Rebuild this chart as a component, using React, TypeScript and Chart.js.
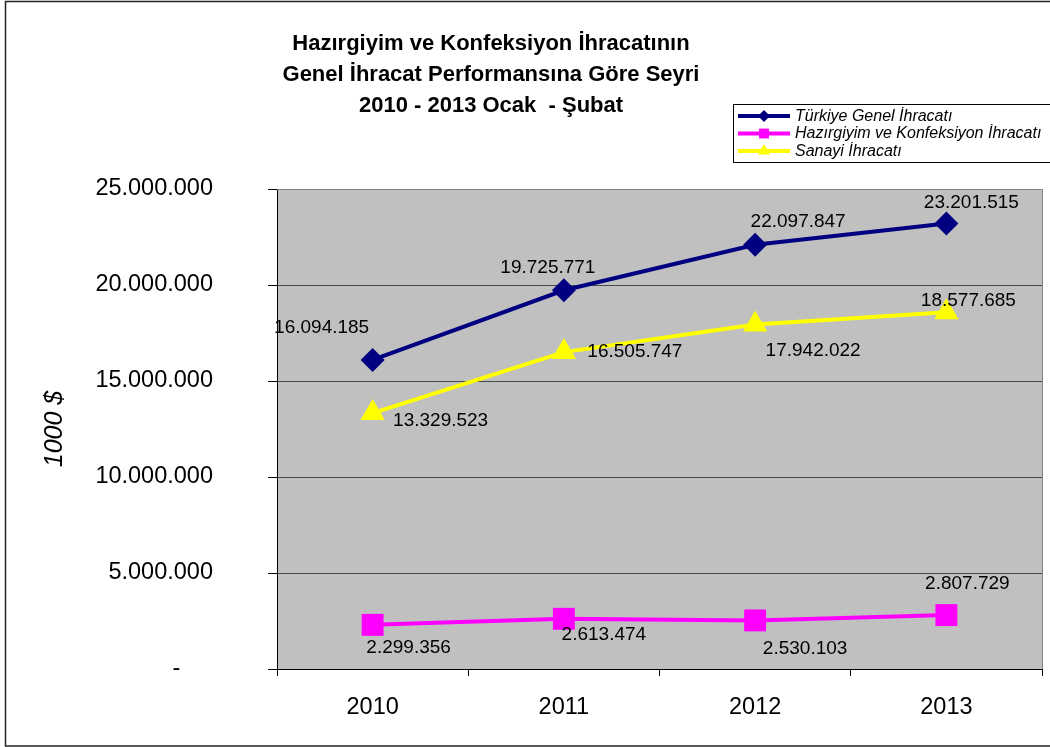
import React, { useEffect, useRef } from "react";
import { Chart, registerables } from "chart.js";

Chart.register(...registerables);

const categories = ["2010", "2011", "2012", "2013"];
const seriesNames = [
  "Türkiye Genel İhracatı",
  "Hazırgiyim ve Konfeksiyon İhracatı",
  "Sanayi İhracatı",
];
const turkiyeGenel = [16094185, 19725771, 22097847, 23201515];
const hazirgiyim = [2299356, 2613474, 2530103, 2807729];
const sanayi = [13329523, 16505747, 17942022, 18577685];
const yTicks = [0, 5000000, 10000000, 15000000, 20000000, 25000000];
const titleLines = [
  "Hazırgiyim ve Konfeksiyon İhracatının",
  "Genel İhracat Performansına Göre Seyri",
  "2010 - 2013 Ocak  - Şubat",
];
const yTitle = "1000 $";

const FONT = '"Liberation Sans", Arial, sans-serif';
const colors = ["#000080", "#FF00FF", "#FFFF00"];
const pointStyles = ["rectRot", "rect", "triangle"];
const pointRadii = [12, 15.5, 14];
// label offsets (dx, dy) from each point, per series
const labelOffsets = [
  [[-51, -32], [-16, -22], [43, -23], [25, -21]],
  [[36, 23], [40, 16], [50, 28], [21, -31]],
  [[68, 8], [71, 0], [58, 26], [22, -12]],
];

const fmt = (v: number) =>
  Math.round(v).toString().replace(/\B(?=(\d{3})+(?!\d))/g, ".");

function drawMarker(ctx: CanvasRenderingContext2D, style: string, x: number, y: number, r: number) {
  ctx.beginPath();
  if (style === "rectRot") {
    ctx.moveTo(x, y - r);
    ctx.lineTo(x + r, y);
    ctx.lineTo(x, y + r);
    ctx.lineTo(x - r, y);
  } else if (style === "rect") {
    const s = r * Math.SQRT1_2;
    ctx.rect(x - s, y - s, 2 * s, 2 * s);
  } else {
    const h = r * 0.866;
    ctx.moveTo(x, y - r);
    ctx.lineTo(x + h, y + r / 2);
    ctx.lineTo(x - h, y + r / 2);
  }
  ctx.closePath();
  ctx.fill();
}

const decorPlugin = {
  id: "decor",
  beforeDraw(chart: any) {
    const { ctx, chartArea } = chart;
    ctx.save();
    ctx.fillStyle = "#fff";
    ctx.fillRect(0, 0, chart.width, chart.height);
    ctx.fillStyle = "#C0C0C0";
    ctx.fillRect(chartArea.left, chartArea.top, chartArea.right - chartArea.left, chartArea.bottom - chartArea.top);
    ctx.restore();
  },
  afterDatasetsDraw(chart: any) {
    const { ctx } = chart;
    ctx.save();
    ctx.fillStyle = "#000";
    ctx.font = `19px ${FONT}`;
    ctx.textAlign = "center";
    ctx.textBaseline = "middle";
    chart.data.datasets.forEach((ds: any, di: number) => {
      const meta = chart.getDatasetMeta(di);
      meta.data.forEach((pt: any, i: number) => {
        const [dx, dy] = labelOffsets[di][i];
        ctx.fillText(fmt(ds.data[i]), pt.x + dx, pt.y + dy);
      });
    });
    ctx.restore();
  },
  afterDraw(chart: any) {
    const { ctx, chartArea } = chart;
    ctx.save();
    ctx.strokeStyle = "#808080";
    ctx.lineWidth = 1;
    ctx.beginPath();
    ctx.moveTo(chartArea.left, chartArea.top + 0.5);
    ctx.lineTo(chartArea.right + 0.5, chartArea.top + 0.5);
    ctx.lineTo(chartArea.right + 0.5, chartArea.bottom);
    ctx.stroke();

    ctx.strokeStyle = "#222";
    ctx.lineWidth = 1.5;
    ctx.strokeRect(5.5, 1.5, 1060, 744.5);

    ctx.fillStyle = "#000";
    ctx.font = `bold 22px ${FONT}`;
    ctx.textAlign = "center";
    ctx.textBaseline = "middle";
    const ty = [44, 75, 106];
    titleLines.forEach((t, i) => ctx.fillText(t, 491, ty[i]));

    ctx.save();
    ctx.translate(55, 429);
    ctx.rotate(-Math.PI / 2);
    ctx.font = `italic 25px ${FONT}`;
    ctx.fillText(yTitle, 0, 0);
    ctx.restore();

    ctx.fillStyle = "#fff";
    ctx.fillRect(733.5, 104.5, 330, 58);
    ctx.strokeStyle = "#000";
    ctx.lineWidth = 1;
    ctx.strokeRect(733.5, 104.5, 330, 58);
    const rows = [116, 133.5, 151];
    const legR = [6, 7, 7];
    seriesNames.forEach((name, i) => {
      const y = rows[i];
      ctx.strokeStyle = colors[i];
      ctx.lineWidth = 4;
      ctx.beginPath();
      ctx.moveTo(738, y);
      ctx.lineTo(790, y);
      ctx.stroke();
      ctx.fillStyle = colors[i];
      drawMarker(ctx, pointStyles[i], 764, y, legR[i]);
      ctx.fillStyle = "#000";
      ctx.font = `italic 16px ${FONT}`;
      ctx.textAlign = "left";
      ctx.textBaseline = "middle";
      ctx.fillText(name, 795, y + 0.5);
    });
    ctx.restore();
  },
};

export default function App() {
  const ref = useRef<HTMLCanvasElement>(null);
  useEffect(() => {
    document.body.style.margin = "0";
    const seriesData = [turkiyeGenel, hazirgiyim, sanayi];
    const chart = new Chart(ref.current!, {
      type: "line",
      data: {
        labels: categories,
        datasets: seriesData.map((d, i) => ({
          label: seriesNames[i],
          data: d,
          borderColor: colors[i],
          backgroundColor: colors[i],
          borderWidth: 4,
          pointStyle: pointStyles[i] as any,
          pointRadius: pointRadii[i],
          pointBorderWidth: 0,
          pointBackgroundColor: colors[i],
          tension: 0,
          clip: false as any,
        })),
      },
      options: {
        responsive: false,
        animation: false,
        layout: { autoPadding: false, padding: { top: 189, right: 8, left: 0, bottom: 0 } },
        plugins: {
          legend: { display: false },
          title: { display: false },
          tooltip: { enabled: false },
        },
        scales: {
          x: {
            type: "category",
            offset: true,
            grid: {
              offset: true,
              drawOnChartArea: false,
              tickLength: 7,
              color: "#000",
            },
            border: { color: "#000", width: 1 },
            ticks: {
              color: "#000",
              font: { family: FONT, size: 23.5 },
              padding: 17,
              maxRotation: 0,
            },
            afterFit: (s: any) => {
              s.height = 78;
              s.paddingLeft = 0;
              s.paddingRight = 0;
            },
          },
          y: {
            min: 0,
            max: 25000000,
            afterBuildTicks: (s: any) => {
              s.ticks = yTicks.map((v) => ({ value: v }));
            },
            grid: {
              color: (c: any) => (c.tick && c.tick.value === 25000000 ? "#808080" : "#4a4a4a"),
              tickColor: "#000",
              tickLength: 9,
            },
            border: { color: "#000", width: 1 },
            ticks: {
              color: "#000",
              font: { family: FONT, size: 23.5 },
              padding: 55,
              callback: (v: any) => (Number(v) === 0 ? "-     " : fmt(Number(v))),
            },
            afterFit: (s: any) => {
              s.width = 277;
              s.paddingTop = 0;
              s.paddingBottom = 0;
            },
          },
        },
      },
      plugins: [decorPlugin],
    });
    return () => chart.destroy();
  }, []);
  return (
    <div style={{ width: 1050, height: 747 }}>
      <canvas ref={ref} width={1050} height={747} style={{ display: "block" }} />
    </div>
  );
}
